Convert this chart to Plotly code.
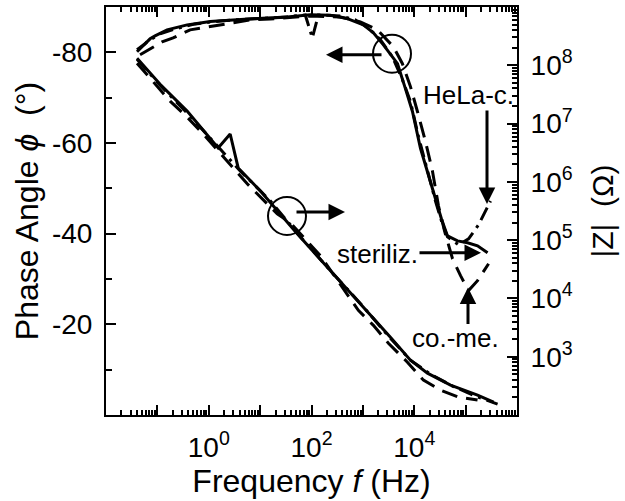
import numpy as np
import plotly.graph_objects as go

# ---------------- data ----------------
# Phase angle (degrees) vs log10(frequency / Hz)
lf_ph_ster = [-1.396, -1.240, -1.142, -1.045, -0.811, -0.421, 0.027, 0.612, 1.138, 1.528,
              1.977, 2.366, 2.698, 3.010, 3.205, 3.400, 3.595, 3.674, 3.828, 3.965,
              4.121, 4.316, 4.472, 4.530, 4.647, 4.842, 5.037, 5.232, 5.427]
ph_ster = [-80.56, -81.88, -82.98, -83.63, -84.95, -86.05, -86.82, -87.30, -87.59, -87.80,
           -88.31, -88.18, -87.43, -86.05, -84.29, -81.66, -78.54, -77.49, -72.0, -66.95,
           -58.83, -51.59, -45.66, -43.24, -39.51, -38.41, -37.98, -37.32, -35.78]

lf_ph_come = [-1.337, -1.142, -0.908, -0.694, -0.363, -0.012, 0.359, 0.807, 1.197, 1.977,
              2.561, 2.951, 3.283, 3.595, 3.770, 3.926, 4.062, 4.218, 4.355, 4.472,
              4.589, 4.745, 4.901, 5.057, 5.232, 5.447]
ph_come = [-79.46, -80.78, -82.32, -83.19, -84.95, -85.61, -86.27, -87.15, -87.37, -88.02,
           -87.80, -86.71, -84.95, -81.22, -77.49, -72.44, -66.95, -60.37, -53.78, -46.10,
           -40.61, -34.46, -30.73, -27.44, -29.63, -33.37]

lf_ph_hela = [-1.396, -1.201, -0.947, -0.655, -0.265, 0.222, 0.807, 1.392, 1.879, 2.016,
              2.133, 2.561, 2.854, 3.107, 3.341, 3.575, 3.770, 3.926, 4.082, 4.257,
              4.413, 4.530, 4.647, 4.862, 5.057, 5.251, 5.485]
ph_hela = [-80.12, -82.32, -84.07, -85.17, -86.27, -86.93, -87.37, -87.69, -88.24, -83.19,
           -88.24, -88.02, -87.15, -85.39, -82.76, -79.02, -73.98, -69.15, -61.46, -53.78,
           -47.20, -42.80, -39.29, -37.54, -38.85, -41.93, -47.20]

# |Z| (log10 Ohm) vs log10(frequency / Hz)
lf_z_ster = [-1.396, -0.947, -0.421, 0.183, 0.417, 0.573, 1.002, 1.723, 2.366, 2.893,
             3.536, 3.926, 4.257, 4.706, 5.232, 5.544]
lz_ster = [8.120, 7.675, 7.214, 6.581, 6.821, 6.239, 5.846, 5.111, 4.479, 3.966,
           3.333, 2.940, 2.718, 2.513, 2.342, 2.222]

lf_z_come = [-1.396, -1.084, -0.752, -0.421, -0.109, 0.183, 0.749, 1.333, 1.587, 2.172,
             2.912, 3.205, 3.497, 3.867, 4.179, 4.511, 4.862, 5.232]
lz_come = [8.034, 7.726, 7.385, 7.111, 6.821, 6.530, 5.966, 5.453, 5.299, 4.735,
           3.795, 3.538, 3.231, 2.906, 2.598, 2.427, 2.308, 2.256]

lf_z_hela = [-1.396, -0.947, -0.363, 0.125, 0.612, 1.197, 1.782, 2.366, 2.951, 3.536,
             3.926, 4.316, 4.745, 5.193, 5.622]
lz_hela = [8.103, 7.658, 7.128, 6.650, 6.188, 5.675, 5.060, 4.479, 3.915, 3.316,
           2.940, 2.701, 2.496, 2.325, 2.188]

x_decades = list(range(-2, 7))
x_labels = {0: "10<sup>0</sup>", 2: "10<sup>2</sup>", 4: "10<sup>4</sup>"}
z_decades = list(range(2, 10))
z_labels = {3: "10<sup>3</sup>", 4: "10<sup>4</sup>", 5: "10<sup>5</sup>",
            6: "10<sup>6</sup>", 7: "10<sup>7</sup>", 8: "10<sup>8</sup>"}
phase_ticks = [-80, -60, -40, -20]
phase_minor = [-70, -50, -30, -10]

# ---------------- figure ----------------
FONT = "Liberation Sans, Arial, sans-serif"
SOLID = "solid"
DASH = "16px,9px"
DASHDOT = "14px,6px,3px,6px"

fig = go.Figure()


def add(lf, vals, dash, axis, log_vals=False):
    x = 10 ** np.array(lf)
    y = 10 ** np.array(vals) if log_vals else np.array(vals)
    fig.add_trace(go.Scatter(x=x, y=y, mode="lines", yaxis=axis, showlegend=False,
                             line=dict(color="black", width=3, dash=dash)))


add(lf_ph_come, ph_come, DASH, "y")
add(lf_ph_hela, ph_hela, DASHDOT, "y")
add(lf_ph_ster, ph_ster, SOLID, "y")
add(lf_z_come, lz_come, DASH, "y2", True)
add(lf_z_hela, lz_hela, DASHDOT, "y2", True)
add(lf_z_ster, lz_ster, SOLID, "y2", True)

minor_x = [k * 10.0 ** d for d in range(-2, 6) for k in range(2, 10)]
minor_z = [k * 10.0 ** d for d in range(2, 9) for k in range(2, 10)]

L, R, T, B = 106, 108, 5, 86
W, H = 625, 501
pw, ph = W - L - R, H - T - B


def px(xp):
    return (xp - L) / pw


def py(yp):
    return (H - B - yp) / ph


fig.update_layout(
    width=W, height=H, margin=dict(l=L, r=R, t=T, b=B),
    paper_bgcolor="white", plot_bgcolor="white",
    font=dict(family=FONT, color="black", size=28),
    xaxis=dict(type="log", range=[-2, 6], showgrid=False, zeroline=False,
               showline=True, linecolor="black", linewidth=2, mirror="ticks",
               ticks="inside", ticklen=10, tickwidth=2, tickcolor="black",
               tickvals=[10.0 ** d for d in x_decades],
               ticktext=[x_labels.get(d, "") for d in x_decades],
               tickfont=dict(size=28), ticklabelstandoff=6,
               minor=dict(ticks="inside", ticklen=5, tickwidth=1.5, tickcolor="black",
                          tickvals=minor_x, showgrid=False),
               title=dict(text="Frequency <i>f</i> (Hz)", font=dict(size=32), standoff=4)),
    yaxis=dict(range=[0, -90], showgrid=False, zeroline=False,
               showline=True, linecolor="black", linewidth=2,
               ticks="inside", ticklen=10, tickwidth=2, tickcolor="black",
               tickvals=phase_ticks, ticktext=["%d" % v for v in phase_ticks],
               ticklabelstandoff=6,
               minor=dict(ticks="inside", ticklen=6, tickwidth=2, tickcolor="black",
                          tickvals=phase_minor, showgrid=False),
               title=dict(text="Phase Angle <i>ϕ</i>  (°)", font=dict(size=32), standoff=4)),
    yaxis2=dict(type="log", range=[2, 9], overlaying="y", side="right",
                showgrid=False, zeroline=False,
                showline=True, linecolor="black", linewidth=2,
                ticks="inside", ticklen=10, tickwidth=2, tickcolor="black",
                tickvals=[10.0 ** d for d in z_decades],
                ticktext=[z_labels.get(d, "") for d in z_decades],
                ticklabelstandoff=6,
                minor=dict(ticks="inside", ticklen=5, tickwidth=1.5, tickcolor="black",
                           tickvals=minor_z, showgrid=False),
                title=dict(text="|Z|  (Ω)", font=dict(size=30), standoff=20)),
)

# circles marking which curve belongs to which axis
for (cx, cy) in [(392, 52), (287, 215)]:
    r = 19
    fig.add_shape(type="circle", xref="paper", yref="paper",
                  x0=px(cx - r), x1=px(cx + r), y0=py(cy + r), y1=py(cy - r),
                  line=dict(color="black", width=2))


def arrow(hx, hy, tx, ty):
    fig.add_annotation(xref="paper", yref="paper", x=px(hx), y=py(hy),
                       ax=tx - hx, ay=ty - hy, axref="pixel", ayref="pixel",
                       text="", showarrow=True, arrowhead=2, arrowsize=1.1,
                       arrowwidth=3, arrowcolor="black")


arrow(326, 53, 383, 53)
arrow(345, 211, 295, 211)
arrow(487, 203, 487, 108)
arrow(481, 252, 418, 252)
arrow(468, 287, 468, 325)


def label(text, cx, cy):
    fig.add_annotation(xref="paper", yref="paper", x=px(cx), y=py(cy), text=text,
                       showarrow=False, font=dict(size=26, family=FONT, color="black"),
                       xanchor="center", yanchor="middle")


label("HeLa-c.", 468, 93)
label("steriliz.", 377, 253)
label("co.-me.", 455, 338)

fig.write_html("out.html")
